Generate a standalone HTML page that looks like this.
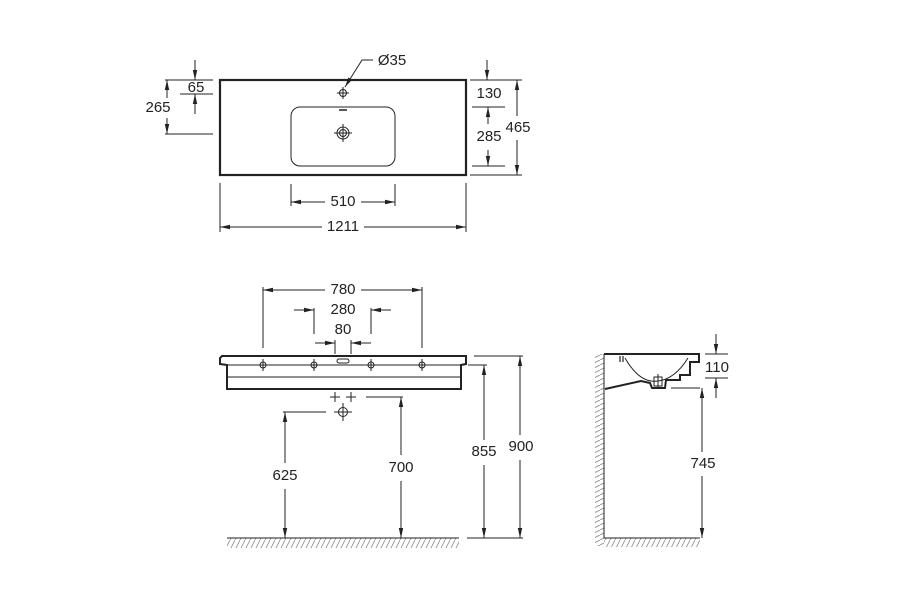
<!DOCTYPE html>
<html><head><meta charset="utf-8"><style>
html,body{margin:0;padding:0;background:#fff;}
svg{display:block;}
text{font-family:"Liberation Sans",sans-serif;font-size:15px;fill:#222;text-anchor:middle;dominant-baseline:middle;}
</style></head><body>
<svg width="900" height="600" viewBox="0 0 900 600" xmlns="http://www.w3.org/2000/svg">
<defs>
<marker id="a" markerWidth="10" markerHeight="6" refX="10" refY="3" orient="auto" markerUnits="userSpaceOnUse"><path d="M0,0.8 L10,3 L0,5.2 z" fill="#222"/></marker>
<pattern id="h" width="5" height="10" patternUnits="userSpaceOnUse"><path d="M5,0 L0,10" stroke="#888" stroke-width="0.8"/></pattern>
<pattern id="hv" width="10" height="5" patternUnits="userSpaceOnUse"><path d="M10,0 L0,5" stroke="#888" stroke-width="0.8"/></pattern>
</defs>
<g stroke="#222" fill="none" stroke-width="1">
<rect x="220" y="80" width="246" height="95" stroke-width="2.2"/>
<rect x="291" y="107" width="104" height="59" rx="9"/>
<line x1="339" y1="110" x2="347" y2="110" stroke-width="1.5"/>
<circle cx="343" cy="93" r="3.5"/><line x1="337" y1="93" x2="349" y2="93"/><line x1="343" y1="87" x2="343" y2="99"/>
<circle cx="343" cy="133" r="6"/><circle cx="343" cy="133" r="3.5"/><line x1="334" y1="133" x2="352" y2="133"/><line x1="343" y1="124" x2="343" y2="142"/>
<polyline points="373,60 362,60 345,87" marker-end="url(#a)"/>
<line x1="165" y1="80" x2="213" y2="80"/><line x1="180" y1="94" x2="213" y2="94"/><line x1="165" y1="134" x2="213" y2="134"/>
<line x1="195" y1="60" x2="195" y2="80" marker-end="url(#a)"/><line x1="195" y1="114" x2="195" y2="94" marker-end="url(#a)"/>
<line x1="167" y1="98" x2="167" y2="80" marker-end="url(#a)"/><line x1="167" y1="118" x2="167" y2="134" marker-end="url(#a)"/>
<line x1="470" y1="80" x2="522" y2="80"/><line x1="472" y1="107" x2="505" y2="107"/><line x1="472" y1="166" x2="505" y2="166"/><line x1="470" y1="175" x2="522" y2="175"/>
<line x1="487" y1="60" x2="487" y2="80" marker-end="url(#a)"/>
<line x1="488" y1="124" x2="488" y2="107" marker-end="url(#a)"/><line x1="488" y1="150" x2="488" y2="166" marker-end="url(#a)"/>
<line x1="517" y1="116" x2="517" y2="80" marker-end="url(#a)"/><line x1="517" y1="140" x2="517" y2="175" marker-end="url(#a)"/>
<line x1="220" y1="183" x2="220" y2="232"/><line x1="466" y1="183" x2="466" y2="232"/>
<line x1="291" y1="184" x2="291" y2="206"/><line x1="395" y1="184" x2="395" y2="206"/>
<line x1="325" y1="202" x2="291" y2="202" marker-end="url(#a)"/><line x1="361" y1="202" x2="395" y2="202" marker-end="url(#a)"/>
<line x1="322" y1="227" x2="220" y2="227" marker-end="url(#a)"/><line x1="364" y1="227" x2="466" y2="227" marker-end="url(#a)"/>

<path d="M222,356 L466,356 L466,364 L461,365 L461,389 L227,389 L227,365 L220,364 L220,358 Z" stroke-width="2"/>
<line x1="227" y1="365" x2="461" y2="365"/>
<line x1="227" y1="377" x2="461" y2="377"/>
<rect x="337" y="359" width="12" height="4" rx="2"/>
<g>
<circle cx="263" cy="365" r="3"/><line x1="255" y1="365" x2="271" y2="365"/><line x1="263" y1="359" x2="263" y2="371"/>
<circle cx="314" cy="365" r="3"/><line x1="306" y1="365" x2="322" y2="365"/><line x1="314" y1="359" x2="314" y2="371"/>
<circle cx="371" cy="365" r="3"/><line x1="363" y1="365" x2="379" y2="365"/><line x1="371" y1="359" x2="371" y2="371"/>
<circle cx="422" cy="365" r="3"/><line x1="414" y1="365" x2="430" y2="365"/><line x1="422" y1="359" x2="422" y2="371"/>
</g>
<line x1="263" y1="287" x2="263" y2="348"/><line x1="422" y1="287" x2="422" y2="348"/>
<line x1="325" y1="290" x2="263" y2="290" marker-end="url(#a)"/><line x1="361" y1="290" x2="422" y2="290" marker-end="url(#a)"/>
<line x1="314" y1="308" x2="314" y2="334"/><line x1="371" y1="308" x2="371" y2="334"/>
<line x1="294" y1="310" x2="314" y2="310" marker-end="url(#a)"/><line x1="391" y1="310" x2="371" y2="310" marker-end="url(#a)"/>
<line x1="335" y1="340" x2="335" y2="354"/><line x1="351" y1="340" x2="351" y2="354"/>
<line x1="315" y1="343" x2="335" y2="343" marker-end="url(#a)"/><line x1="371" y1="343" x2="351" y2="343" marker-end="url(#a)"/>
<line x1="330" y1="397" x2="340" y2="397"/><line x1="335" y1="392" x2="335" y2="402"/>
<line x1="346" y1="397" x2="356" y2="397"/><line x1="351" y1="392" x2="351" y2="402"/>
<circle cx="343" cy="412" r="4.5"/><line x1="334" y1="412" x2="352" y2="412"/><line x1="343" y1="403" x2="343" y2="421"/>
<line x1="366" y1="397" x2="403" y2="397"/>
<line x1="401" y1="455" x2="401" y2="397" marker-end="url(#a)"/><line x1="401" y1="481" x2="401" y2="538" marker-end="url(#a)"/>
<line x1="283" y1="412" x2="326" y2="412"/>
<line x1="285" y1="463" x2="285" y2="412" marker-end="url(#a)"/><line x1="285" y1="489" x2="285" y2="538" marker-end="url(#a)"/>
<line x1="474" y1="356" x2="523" y2="356"/><line x1="468" y1="365" x2="487" y2="365"/>
<line x1="467" y1="538" x2="523" y2="538"/>
<line x1="484" y1="440" x2="484" y2="365" marker-end="url(#a)"/><line x1="484" y1="465" x2="484" y2="538" marker-end="url(#a)"/>
<line x1="520" y1="435" x2="520" y2="356" marker-end="url(#a)"/><line x1="520" y1="460" x2="520" y2="538" marker-end="url(#a)"/>
<rect x="227" y="538" width="232" height="10" fill="url(#h)" stroke="none"/>
<line x1="227" y1="538" x2="459" y2="538"/>

<rect x="595" y="354" width="9" height="192" fill="url(#hv)" stroke="none"/>
<rect x="604" y="538" width="96" height="9" fill="url(#h)" stroke="none"/>
<line x1="604" y1="354" x2="604" y2="538"/><line x1="604" y1="538" x2="700" y2="538"/>
<path d="M604,354 L699,354 L699,362 L690,362 L690,375 L680,375 L680,380 L666,380 L665,388 L652,388 L650,383 L641,381 L605,389" stroke-width="2"/>
<path d="M625,358 Q640,384 658,381 Q675,379 688,358"/>
<line x1="620" y1="356" x2="620" y2="362" stroke-width="1.2"/><line x1="623" y1="356" x2="623" y2="362" stroke-width="1.2"/>
<rect x="654" y="377" width="8" height="9"/><line x1="658" y1="374" x2="658" y2="388"/>
<line x1="705" y1="354" x2="728" y2="354"/><line x1="705" y1="378" x2="728" y2="378"/>
<line x1="716" y1="334" x2="716" y2="354" marker-end="url(#a)"/><line x1="716" y1="398" x2="716" y2="378" marker-end="url(#a)"/>
<line x1="671" y1="388" x2="700" y2="388"/>
<line x1="702" y1="452" x2="702" y2="388" marker-end="url(#a)"/><line x1="702" y1="476" x2="702" y2="538" marker-end="url(#a)"/>
</g>
<text x="392" y="61">Ø35</text>
<text x="196" y="88">65</text>
<text x="158" y="108">265</text>
<text x="489" y="94">130</text>
<text x="489" y="137">285</text>
<text x="518" y="128">465</text>
<text x="343" y="202">510</text>
<text x="343" y="227">1211</text>
<text x="343" y="290">780</text>
<text x="343" y="310">280</text>
<text x="343" y="330">80</text>
<text x="285" y="476">625</text>
<text x="401" y="468">700</text>
<text x="484" y="452">855</text>
<text x="521" y="447">900</text>
<text x="717" y="368">110</text>
<text x="703" y="464">745</text>
</svg>
</body></html>
